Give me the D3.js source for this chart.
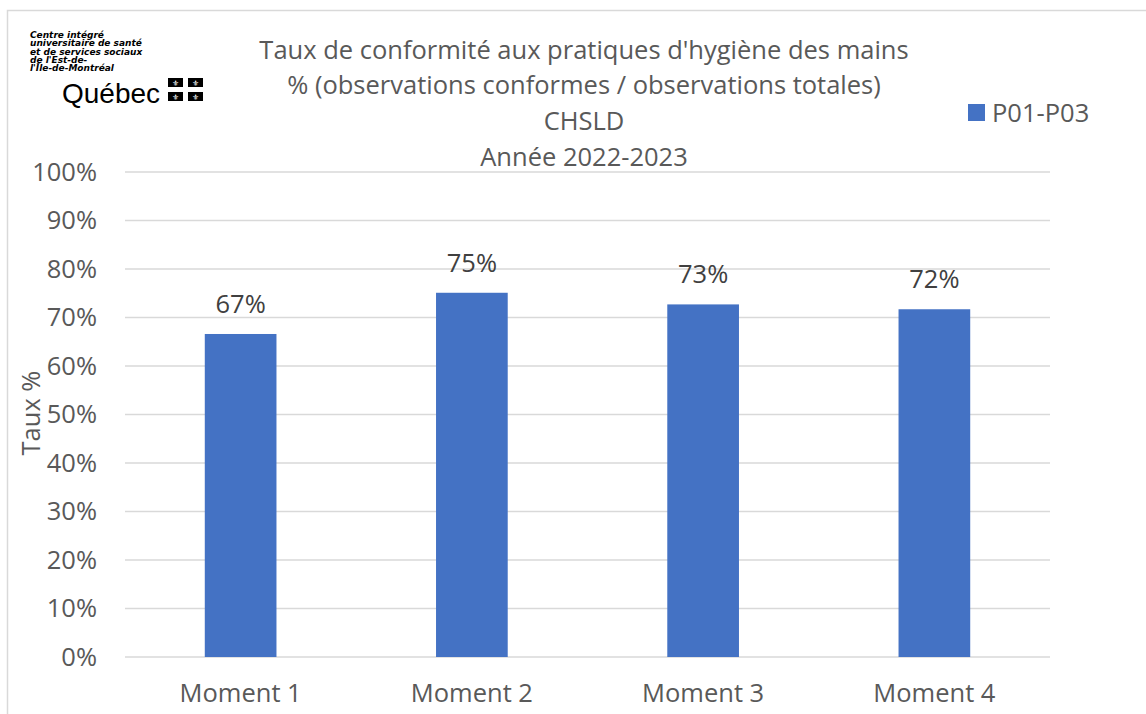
<!DOCTYPE html>
<html lang="fr">
  <head>
    <meta charset="utf-8">
    <title>Taux de conformité</title>
    <style>
      body { margin: 0; background: #fff; }
      text { font-family: "Open Sans", Lato, sans-serif; }
    </style>
  </head>
  <body>
    <svg id="chart"></svg>

    <script src="https://d3js.org/d3.v7.min.js"></script>

    <script type="text/javascript">
      // données
      const categories = ['Moment 1', 'Moment 2', 'Moment 3', 'Moment 4'];
      const values = [66.6, 75.1, 72.7, 71.7];
      const labels = ['67%', '75%', '73%', '72%'];
      const yTicks = [0, 10, 20, 30, 40, 50, 60, 70, 80, 90, 100];
      const titleLines = [
        "Taux de conformité aux pratiques d'hygiène des mains",
        '% (observations conformes / observations totales)',
        'CHSLD',
        'Année 2022-2023'
      ];
      const seriesName = 'P01-P03';
      const logoLines = ['Centre intégré', 'universitaire de santé', 'et de services sociaux', "de l'Est-de-", "l'Île-de-Montréal"];

      const width = 1146, height = 714;
      const margin = {top: 172, right: 96, bottom: 57, left: 125};
      const blue = '#4472C4', grey = '#595959';
      const fs = 25.5;
      const font = '"Open Sans", Lato, sans-serif';

      const svg = d3.select('#chart')
        .attr('width', width)
        .attr('height', height);

      // cadre
      svg.append('path')
        .attr('d', `M7.5,${height} V10.5 H${width}`)
        .attr('fill', 'none')
        .attr('stroke', '#d9d9d9')
        .attr('stroke-width', 1.5);

      const x = d3.scaleBand()
        .domain(categories)
        .range([margin.left, width - margin.right])
        .paddingInner(0.69)
        .paddingOuter(0.345);

      const y = d3.scaleLinear()
        .domain([0, 100])
        .range([height - margin.bottom, margin.top]);

      // grille
      svg.append('g')
        .selectAll('line')
        .data(yTicks)
        .join('line')
        .attr('x1', margin.left)
        .attr('x2', width - margin.right)
        .attr('y1', d => y(d))
        .attr('y2', d => y(d))
        .attr('stroke', '#d9d9d9')
        .attr('stroke-width', 1.3);

      // axe y
      const yAxis = svg.append('g')
        .attr('transform', `translate(${margin.left - 28},0)`)
        .call(d3.axisLeft(y).tickValues(yTicks).tickFormat(d => d + '%').tickSize(0).tickPadding(0));
      yAxis.select('.domain').remove();
      yAxis.selectAll('text')
        .attr('fill', grey)
        .attr('font-size', fs)
        .style('font-family', font);

      // axe x
      const xAxis = svg.append('g')
        .attr('transform', `translate(0,${height - margin.bottom})`)
        .call(d3.axisBottom(x).tickSize(0).tickPadding(27));
      xAxis.select('.domain').remove();
      xAxis.selectAll('text')
        .attr('fill', grey)
        .attr('font-size', fs)
        .style('font-family', font);

      // barres
      svg.append('g')
        .selectAll('rect')
        .data(values)
        .join('rect')
        .attr('x', (d, i) => x(categories[i]))
        .attr('y', d => y(d))
        .attr('width', x.bandwidth())
        .attr('height', d => y(0) - y(d))
        .attr('fill', blue);

      // étiquettes
      svg.append('g')
        .selectAll('text')
        .data(values)
        .join('text')
        .attr('x', (d, i) => x(categories[i]) + x.bandwidth() / 2)
        .attr('y', d => y(d) - 21)
        .attr('text-anchor', 'middle')
        .attr('font-size', fs)
        .attr('fill', '#404040')
        .text((d, i) => labels[i]);

      // titre
      svg.append('g')
        .selectAll('text')
        .data(titleLines)
        .join('text')
        .attr('x', 584)
        .attr('y', (d, i) => 58.5 + i * 35.9)
        .attr('text-anchor', 'middle')
        .attr('font-size', fs)
        .attr('fill', grey)
        .text(d => d);

      // titre axe y
      svg.append('text')
        .attr('transform', `translate(40,413) rotate(-90)`)
        .attr('text-anchor', 'middle')
        .attr('font-size', fs)
        .attr('fill', grey)
        .text('Taux %');

      // légende
      svg.append('rect')
        .attr('x', 968).attr('y', 104)
        .attr('width', 17).attr('height', 17)
        .attr('fill', blue);
      svg.append('text')
        .attr('x', 992).attr('y', 122)
        .attr('font-size', fs)
        .attr('fill', grey)
        .text(seriesName);

      // logo
      const logo = svg.append('g');
      logo.selectAll('text.l')
        .data(logoLines)
        .join('text')
        .attr('class', 'l')
        .attr('x', 30)
        .attr('y', (d, i) => 38 + i * 8.3)
        .attr('font-size', 9)
        .attr('font-weight', 'bold')
        .attr('font-style', 'italic')
        .style('font-family', '"DejaVu Sans", sans-serif')
        .attr('fill', '#000')
        .text(d => d);
      logo.append('text')
        .attr('x', 62).attr('y', 103)
        .attr('font-size', 28)
        .style('font-family', '"Liberation Sans", sans-serif')
        .attr('fill', '#000')
        .text('Québec');
      const flags = [[168, 78], [188, 78], [168, 92], [188, 92]];
      logo.selectAll('rect.f')
        .data(flags)
        .join('rect')
        .attr('class', 'f')
        .attr('x', d => d[0]).attr('y', d => d[1])
        .attr('width', 15).attr('height', 9)
        .attr('fill', '#000');
      logo.selectAll('text.f')
        .data(flags)
        .join('text')
        .attr('class', 'f')
        .attr('x', d => d[0] + 7.5).attr('y', d => d[1] + 8)
        .attr('text-anchor', 'middle')
        .attr('font-size', 8)
        .style('font-family', '"DejaVu Sans", sans-serif')
        .attr('fill', '#fff')
        .text('\u269C');
    </script>
  </body>
</html>
